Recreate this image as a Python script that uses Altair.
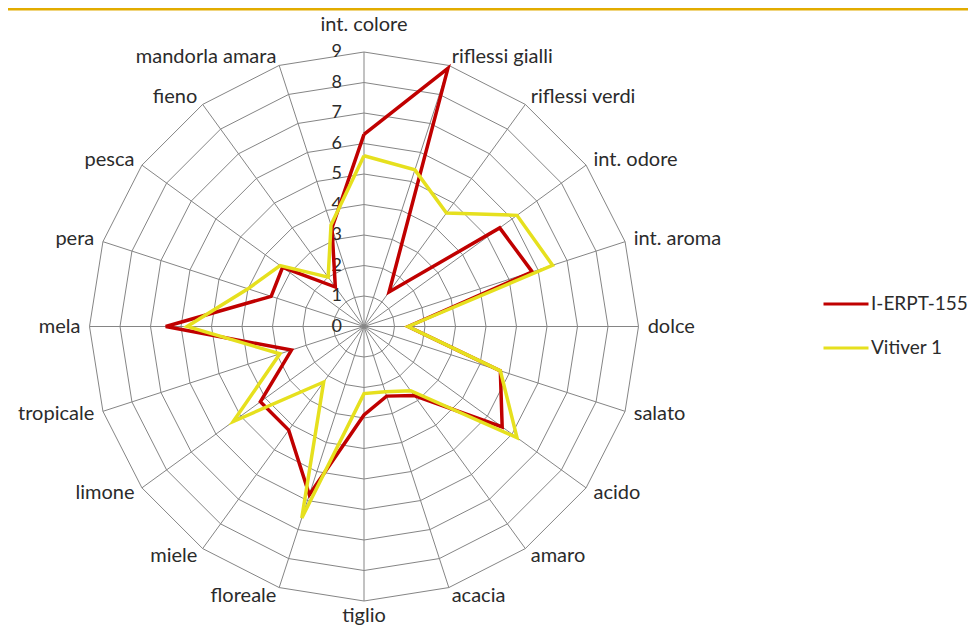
import altair as alt
import pandas as pd

# ---------------- data ----------------
categories = ["int. colore", "riflessi gialli", "riflessi verdi", "int. odore", "int. aroma",
              "dolce", "salato", "acido", "amaro", "acacia", "tiglio", "floreale", "miele",
              "limone", "tropicale", "mela", "pera", "pesca", "fieno", "mandorla amara"]
series_names = ["I-ERPT-155", "Vitiver 1"]
erpt_values = [6.3, 8.9, 1.4, 5.5, 5.8, 1.45, 4.7, 5.6, 2.8, 2.4,
               2.9, 5.8, 4.2, 4.2, 2.5, 6.5, 3.2, 3.3, 1.6, 3.4]
vitiver_values = [5.6, 5.4, 4.6, 6.2, 6.5, 1.45, 4.7, 6.2, 2.6, 2.25,
                  2.2, 6.6, 2.25, 5.3, 2.9, 5.8, 4.0, 3.4, 2.0, 3.5]
tick_levels = [0, 1, 2, 3, 4, 5, 6, 7, 8, 9]
series_colors = ["#C00000", "#E6E01E"]

n = len(categories)
step = 360.0 / n
rmax = tick_levels[-1]

# ---------------- tables ----------------
rows = []
for s, vals in zip(series_names, [erpt_values, vitiver_values]):
    for i in range(n + 1):
        rows.append({"series": s, "idx": i, "value": vals[i % n], "angle": (i % n) * step})
series_df = pd.DataFrame(rows)

ring_rows = []
for lv in tick_levels[1:]:
    for i in range(n + 1):
        ring_rows.append({"level": lv, "idx": i, "value": lv, "angle": (i % n) * step})
ring_df = pd.DataFrame(ring_rows)

spoke_df = pd.DataFrame({"idx": list(range(n)), "angle": [i * step for i in range(n)], "value": [rmax] * n})
label_df = pd.DataFrame({"category": categories, "angle": [i * step for i in range(n)]})
tick_df = pd.DataFrame({"level": tick_levels, "label": [str(t) for t in tick_levels]})

# ---------------- scales ----------------
W, H = 960, 619
PX = 30.5          # pixels per unit
CX, CY = 356, 318.5
xdom = [-CX / PX, (W - CX) / PX]
ydom = [-(H - CY) / PX, CY / PX]
xs = alt.Scale(domain=xdom, nice=False, zero=False)
ys = alt.Scale(domain=ydom, nice=False, zero=False)

FONT = "Lato"
TXT = "#2b2b2b"
GRID = "#858585"


def X(f):
    return alt.X(f, type="quantitative", scale=xs, axis=None)


def Y(f):
    return alt.Y(f, type="quantitative", scale=ys, axis=None)


polar = dict(px="datum.value * sin(datum.angle * PI / 180)",
             py="datum.value * cos(datum.angle * PI / 180)")

rings = alt.Chart(ring_df).transform_calculate(**polar).mark_line(
    color=GRID, strokeWidth=1).encode(x=X("px"), y=Y("py"), detail="level:N", order="idx:Q")

spokes = alt.Chart(spoke_df).transform_calculate(
    px="datum.value * sin(datum.angle * PI / 180)",
    py="datum.value * cos(datum.angle * PI / 180)",
    ox="0", oy="0").mark_rule(color=GRID, strokeWidth=1).encode(
    x=X("ox"), y=Y("oy"), x2="px:Q", y2="py:Q")

lines = alt.Chart(series_df).transform_calculate(**polar).mark_line(
    strokeWidth=3.5, strokeJoin="miter").encode(
    x=X("px"), y=Y("py"), order="idx:Q",
    color=alt.Color("series:N",
                    scale=alt.Scale(domain=series_names, range=series_colors),
                    legend=alt.Legend(orient="none", legendX=814, legendY=286, title=None,
                                      symbolType="stroke", symbolSize=2025, symbolStrokeWidth=3,
                                      labelFont=FONT, labelFontSize=19, labelColor=TXT,
                                      labelOffset=1, clipHeight=20, rowPadding=24, padding=0,
                                      labelLimit=0)))

lab_base = alt.Chart(label_df).transform_calculate(
    s="sin(datum.angle * PI / 180)",
    c="cos(datum.angle * PI / 180)",
).transform_calculate(
    r="abs(datum.s) < 0.1 ? (datum.c > 0 ? 9.9 : 9.5) : 9.3",
).transform_calculate(
    lx="datum.r * datum.s", ly="datum.r * datum.c")


def lab_layer(cond, align):
    return lab_base.transform_filter(cond).mark_text(
        align=align, baseline="middle", font=FONT, fontSize=20, color=TXT).encode(
        x=X("lx"), y=Y("ly"), text="category:N")


lab_center = lab_layer("abs(datum.s) < 0.1", "center")
lab_left = lab_layer("datum.s >= 0.1", "left")
lab_right = lab_layer("datum.s <= -0.1", "right")

tick_labels = alt.Chart(tick_df).transform_calculate(zx="0").mark_text(
    align="right", baseline="middle", dx=-22, font=FONT, fontSize=18, color=TXT).encode(
    x=X("zx"), y=Y("level"), text="label:N")

top_rule = alt.Chart(pd.DataFrame({"k": [0]})).mark_rule(color="#E2AC00", strokeWidth=3).encode(
    x=alt.value(0), x2=alt.value(W), y=alt.value(1))

chart = alt.layer(top_rule, rings, spokes, tick_labels, lab_center, lab_left, lab_right, lines).properties(
    width=W, height=H, padding=0,
    autosize=alt.AutoSizeParams(type="none"),
).configure_view(stroke=None)

chart.save("out.html", embed_options={"renderer": "svg", "actions": False})
